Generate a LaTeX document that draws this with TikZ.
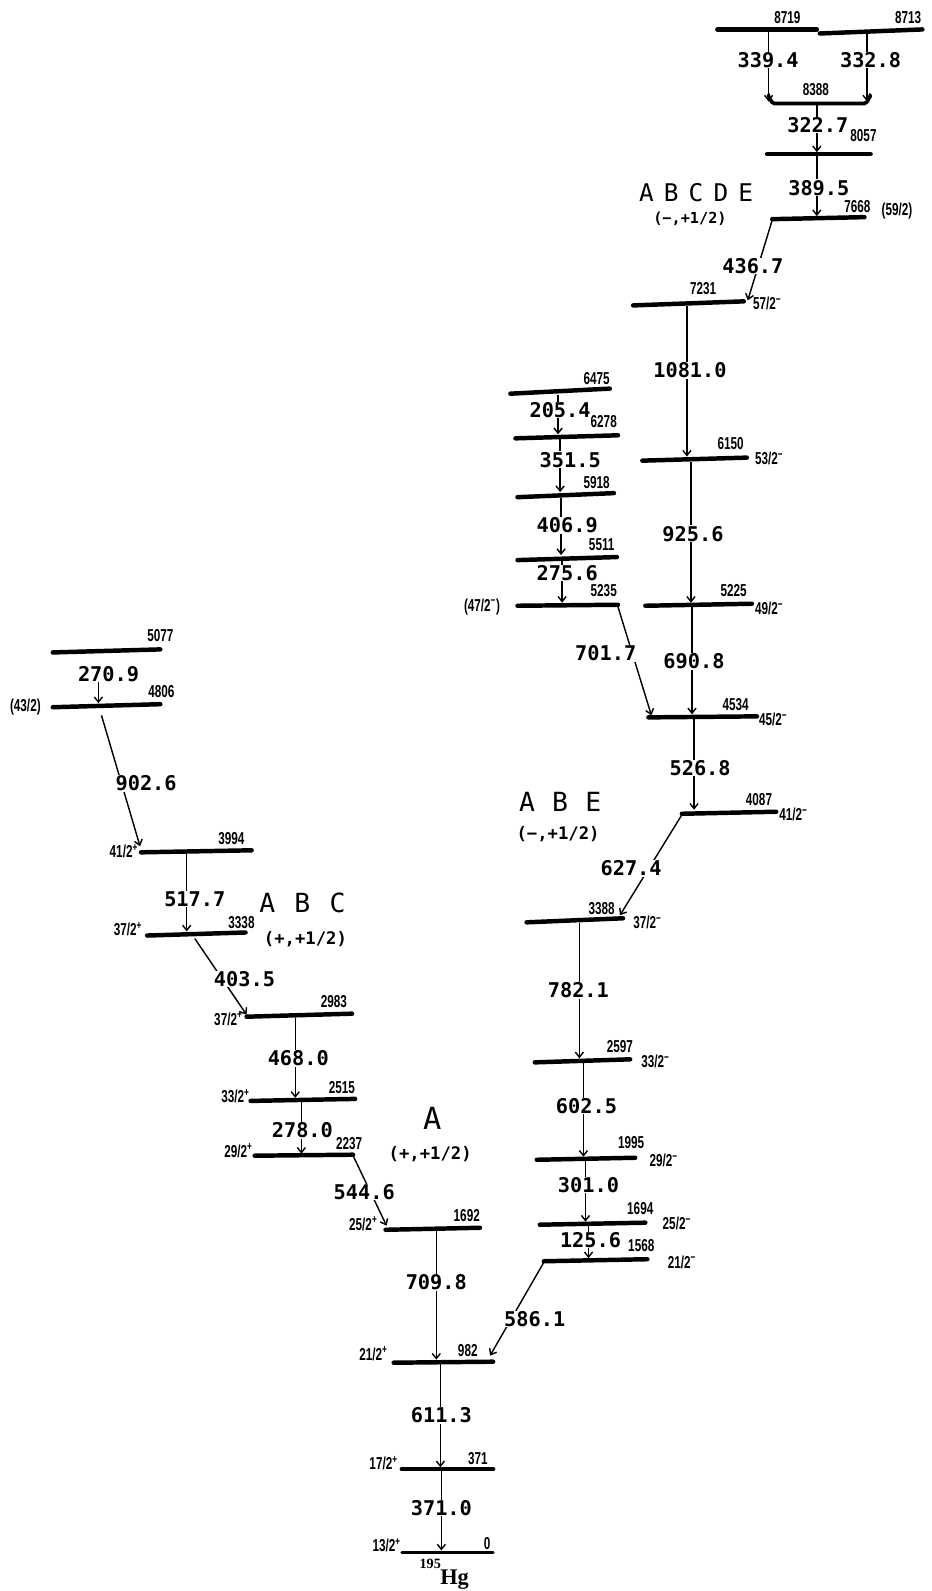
\documentclass[tikz,border=0pt]{standalone}
\usepackage{fontspec}
\usetikzlibrary{arrows.meta}
\newfontfamily\lvfont{Liberation Sans}[FakeStretch=0.68]
\newfontfamily\gfont{DejaVu Sans Mono}
\newfontfamily\hgfont{Liberation Serif}
\tikzset{
  lvl/.style={line width=4.4pt, line cap=round},
  gam/.style={line width=1.4pt, -{Straight Barb[length=5pt,width=8pt]}},
  glab/.style={fill=white, inner sep=0.5pt, font=\gfont\bfseries\fontsize{20}{20}\selectfont},
  elab/.style={inner sep=0pt, font=\lvfont\bfseries\fontsize{17}{17}\selectfont},
  spin/.style={inner sep=0pt, font=\lvfont\bfseries\fontsize{17}{17}\selectfont},
  band/.style={inner sep=0pt, font=\gfont\fontsize{26}{26}\selectfont},
  kq/.style={inner sep=0pt, font=\gfont\bfseries\fontsize{17}{17}\selectfont},
}
\newcommand\sgn[1]{\textsuperscript{#1}}
% name, x1, y1, x2, y2, label x, label y, text
\newcommand\gline[8]{%
  \coordinate (#1t) at (#2,#3);
  \coordinate (#1b) at (#4,#5);
  \draw[gam] (#1t) -- (#1b);
  \node[glab] (#1) at (#6,#7) {#8};}
% name, x1, y1, x2, y2, energy text, ex, ey
\newcommand\level[8]{%
  \draw[lvl] (#2,#3) coordinate (#1l) -- (#4,#5) coordinate (#1r);
  \node[elab] (#1e) at (#7,#8) {#6};}
\begin{document}
\begin{tikzpicture}[x=1pt,y=-1pt]
\fill[white] (0,0) rectangle (918,1568);
\useasboundingbox (0,0) rectangle (918,1568);

% ---------------- gammas (drawn first, levels on top) ----------------
% top group
\gline{g3394}{757.5}{30}{757.5}{100}{757}{59}{339.4}
\gline{g3328}{854.5}{32}{854.5}{100}{858}{59}{332.8}
\gline{g3227}{805}{103}{805}{150}{806}{123}{322.7}
\gline{g3895}{805}{153}{805}{213}{807}{185}{389.5}
\gline{g4367}{761}{217}{737}{296}{742}{262}{436.7}
% right column
\gline{g10810}{677}{302}{677}{450}{680}{365}{1081.0}
\gline{g9256}{681}{455}{681}{594}{683}{526}{925.6}
\gline{g6908}{682}{598}{682}{704}{684}{652}{690.8}
\gline{g5268}{684}{708}{684}{798}{690}{757}{526.8}
\gline{g6274}{672}{803}{611}{902}{622}{856}{627.4}
\gline{g7821}{571}{910}{571}{1043}{570}{976}{782.1}
\gline{g6025}{575}{1048}{575}{1140}{578}{1090}{602.5}
\gline{g3010}{577}{1144}{577}{1204}{580}{1168}{301.0}
\gline{g1256}{580}{1208}{580}{1240}{582}{1222}{125.6}
\gline{g5861}{536}{1244}{483}{1336}{527}{1300}{586.1}
% middle column
\gline{g2054}{550}{389}{550}{428}{552}{404}{205.4}
\gline{g3515}{552}{433}{552}{485}{562}{453}{351.5}
\gline{g4069}{553}{491}{553}{547}{559}{518}{406.9}
\gline{g2756}{554}{553}{554}{594}{559}{565}{275.6}
\gline{g7017}{609}{598}{642}{705}{597}{644}{701.7}
% left column
\coordinate (g2709t) at (97,672); \coordinate (g2709b) at (97,693);
\draw[gam] (g2709t) -- (g2709b);
\node[glab,fill=none] (g2709) at (107,664) {270.9};
\gline{g9026}{100}{705}{138}{834}{144}{772}{902.6}
\gline{g5177}{184}{841}{184}{918}{192}{886}{517.7}
\gline{g4035}{192}{925}{243}{1000}{241}{965}{403.5}
\gline{g4680}{291}{1003}{291}{1082}{294}{1043}{468.0}
\gline{g2780}{297}{1086}{297}{1137}{298}{1114}{278.0}
\gline{g5446}{348}{1139}{381}{1208}{359}{1175}{544.6}
\gline{g7098}{430}{1213}{430}{1340}{430}{1264}{709.8}
\gline{g6113}{434}{1344}{434}{1446}{435}{1395}{611.3}
\gline{g3710}{435}{1449}{435}{1528}{435}{1486}{371.0}

% ---------------- levels ----------------
\level{L8719}{707}{29}{805}{29}{8719}{776}{17}
\level{L8713}{808}{33}{909}{29}{8713}{895}{17}
\draw[line width=3.6pt,line cap=round] (757,95) to[out=90,in=180] (763,102) coordinate (L8388l) -- (852,102) coordinate (L8388r) to[out=0,in=90] (858,95);
\node[elab] (L8388e) at (804,88) {8388};
\level{L8057}{756}{152}{858}{152}{8057}{851}{134}
\level{L7668}{761}{216}{852}{214}{7668}{845}{204}
\level{L7231}{624}{301}{733}{297}{7231}{693}{284}
\level{L6150}{633}{454}{736}{451}{6150}{720}{437}
\level{L5225}{636}{597}{741}{595}{5225}{723}{582}
\level{L4534}{639}{707}{746}{706}{4534}{725}{694}
\level{L4087}{672}{802}{765}{800}{4087}{748}{788}
\level{L3388}{519}{909}{614}{905}{3388}{593}{895}
\level{L2597}{527}{1047}{621}{1044}{2597}{611}{1031}
\level{L1995}{529}{1143}{626}{1141}{1995}{622}{1126}
\level{L1694}{532}{1207}{636}{1205}{1694}{631}{1191}
\level{L1568}{536}{1243}{638}{1241}{1568}{632}{1228}
\level{L6475}{503}{388}{601}{383}{6475}{588}{373}
\level{L6278}{508}{432}{609}{429}{6278}{595}{415}
\level{L5918}{510}{490}{605}{486}{5918}{588}{476}
\level{L5511}{510}{552}{608}{549}{5511}{593}{537}
\level{L5235}{510}{597}{609}{596}{5235}{595}{582}
\level{L5077}{52}{643}{158}{640}{5077}{158}{626}
\level{L4806}{52}{697}{158}{694}{4806}{159}{682}
\level{L3994}{139}{840}{248}{838}{3994}{228}{826}
\level{L3338}{145}{922}{242}{919}{3338}{238}{909}
\level{L2983}{243}{1002}{347}{999}{2983}{329}{987}
\level{L2515}{247}{1085}{350}{1083}{2515}{337}{1072}
\level{L2237}{251}{1139}{348}{1138}{2237}{344}{1127}
\level{L1692}{380}{1212}{473}{1210}{1692}{460}{1198}
\level{L982}{388}{1343}{486}{1342}{982}{461}{1331}
\level{L371}{396}{1448}{486}{1448}{371}{471}{1437}
\draw[line width=3pt,line cap=round] (396,1530) coordinate (L0l) -- (486,1530) coordinate (L0r);
\node[elab] (L0e) at (480,1521) {0};

% ---------------- spins ----------------
\node[spin] (s592) at (884,208) {(59/2)};
\node[spin] (s572) at (756,299) {57/2\sgn{−}};
\node[spin] (s532) at (758,452) {53/2\sgn{−}};
\node[spin] (s492) at (758,600) {49/2\sgn{−}};
\node[spin] (s452) at (762,709) {45/2\sgn{−}};
\node[spin] (s412m) at (782,803) {41/2\sgn{−}};
\node[spin] (s372m) at (638,909) {37/2\sgn{−}};
\node[spin] (s332m) at (646,1046) {33/2\sgn{−}};
\node[spin] (s292m) at (654,1144) {29/2\sgn{−}};
\node[spin] (s252m) at (667,1206) {25/2\sgn{−}};
\node[spin] (s212m) at (672,1244) {21/2\sgn{−}};
\node[spin] (s472) at (475,598) {(47/2\sgn{−})};
\node[spin] (s432) at (25,697) {(43/2)};
\node[spin] (s412p) at (122,839) {41/2\sgn{+}};
\node[spin] (s372p) at (126,916) {37/2\sgn{+}};
\node[spin] (s372q) at (225,1004) {37/2\sgn{+}};
\node[spin] (s332p) at (232,1080) {33/2\sgn{+}};
\node[spin] (s292p) at (235,1134) {29/2\sgn{+}};
\node[spin] (s252p) at (358,1206) {25/2\sgn{+}};
\node[spin] (s212p) at (368,1334) {21/2\sgn{+}};
\node[spin] (s172p) at (378,1442) {17/2\sgn{+}};
\node[spin] (s132p) at (381,1523) {13/2\sgn{+}};

% ---------------- band labels ----------------
\node[band,font=\gfont\fontsize{24}{24}\selectfont] (bABCDE) at (686,190) {A\hspace{10pt}B\hspace{10pt}C\hspace{10pt}D\hspace{10pt}E};
\node[kq,font=\gfont\bfseries\fontsize{15}{15}\selectfont] (qABCDE) at (680,216) {(−,+1/2)};
\node[band] (bABE) at (552,790) {A\hspace{17pt}B\hspace{17pt}E};
\node[kq] (qABE) at (550,822) {(−,+1/2)};
\node[band] (bABC) at (298,890) {A\hspace{19pt}B\hspace{19pt}C};
\node[kq] (qABC) at (301,926) {(+,+1/2)};
\node[band,font=\gfont\fontsize{30}{30}\selectfont] (bA) at (426,1102) {A};
\node[kq] (qA) at (424,1137) {(+,+1/2)};

\node[inner sep=0pt,font=\hgfont\bfseries\fontsize{14}{14}\selectfont] (hg195) at (424,1541) {195};
\node[inner sep=0pt,font=\hgfont\bfseries\fontsize{22}{22}\selectfont] (hg) at (448,1557) {Hg};
\end{tikzpicture}
\end{document}
